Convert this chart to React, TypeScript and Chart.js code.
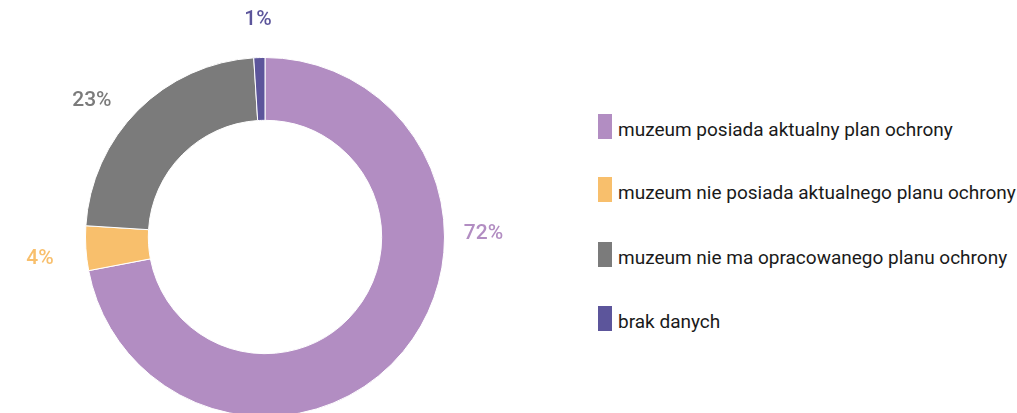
import React, { useEffect, useRef } from "react";
import { Chart, registerables } from "chart.js";

Chart.register(...registerables);

const categories = [
  "muzeum posiada aktualny plan ochrony",
  "muzeum nie posiada aktualnego planu ochrony",
  "muzeum nie ma opracowanego planu ochrony",
  "brak danych",
];
const values = [72, 4, 23, 1];
const colors = ["#B28DC2", "#F8BF6C", "#7B7B7B", "#5C559B"];

const labelPlugin = {
  id: "outLabels",
  afterDatasetsDraw(chart: any) {
    const ctx = chart.ctx;
    const meta = chart.getDatasetMeta(0);
    const total = values.reduce((a, b) => a + b, 0);
    ctx.save();
    ctx.font = "500 21px Roboto";
    ctx.textAlign = "center";
    ctx.textBaseline = "middle";
    meta.data.forEach((arc: any, i: number) => {
      const { x, y, startAngle, endAngle, outerRadius } = arc.getProps(
        ["x", "y", "startAngle", "endAngle", "outerRadius"],
        true
      );
      const mid = (startAngle + endAngle) / 2;
      const r = outerRadius + 46;
      let lx: number, ly: number;
      if (y + Math.sin(mid) * r > y + outerRadius * 0.5) {
        // best-fit: label of the large bottom slice goes to the right side
        lx = x + outerRadius + 39;
        ly = y - 3;
      } else {
        // best-fit: labels in the upper-left quadrant lean toward horizontal
        const a = Math.cos(mid) < -0.3 && Math.sin(mid) < -0.3 ? mid - 0.09 : mid;
        lx = x + Math.cos(a) * r;
        ly = y + Math.sin(a) * r + 8;
      }
      ctx.fillStyle = colors[i];
      ctx.fillText(Math.round((values[i] / total) * 100) + "%", lx, ly);
    });
    ctx.restore();
  },
};

export default function App() {
  const ref = useRef<HTMLCanvasElement>(null);
  useEffect(() => {
    const chart = new Chart(ref.current!, {
      type: "doughnut",
      data: {
        labels: categories,
        datasets: [
          {
            data: values,
            backgroundColor: colors,
            borderColor: "#ffffff",
            borderWidth: 1,
          },
        ],
      },
      options: {
        responsive: false,
        animation: false,
        cutout: "65%",
        layout: { padding: 57 },
        plugins: {
          legend: { display: false },
          tooltip: { enabled: false },
        },
      },
      plugins: [labelPlugin],
    });
    return () => chart.destroy();
  }, []);

  const legendTops = [114, 177, 242, 306];
  return (
    <div
      style={{
        position: "fixed",
        left: 0,
        top: 0,
        width: 1017,
        height: 413,
        overflow: "hidden",
        background: "#fff",
        fontFamily: "Roboto, sans-serif",
      }}
    >
      <canvas
        ref={ref}
        width={530}
        height={474}
        style={{ position: "absolute", left: 0, top: 0 }}
      />
      {categories.map((c, i) => (
        <div
          key={c}
          style={{
            position: "absolute",
            left: 598,
            top: legendTops[i],
            height: 25,
            display: "flex",
            alignItems: "center",
            whiteSpace: "nowrap",
          }}
        >
          <span
            style={{
              display: "inline-block",
              width: 14,
              height: 25,
              background: colors[i],
              marginRight: 6,
              flexShrink: 0,
            }}
          />
          <span style={{ fontSize: 19, color: "#1a1a1a", position: "relative", top: 3 }}>{c}</span>
        </div>
      ))}
    </div>
  );
}
